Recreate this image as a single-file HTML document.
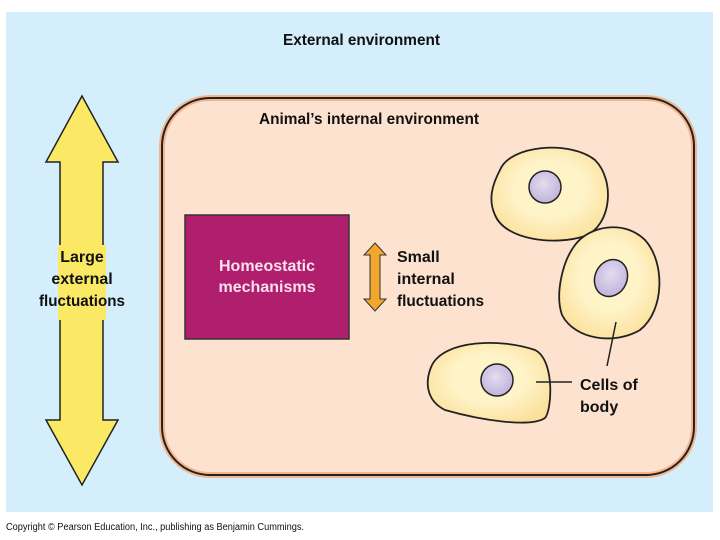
<!DOCTYPE html>
<html><head><style>
body{margin:0;background:#fff;width:720px;height:540px;overflow:hidden}
svg{display:block}
text{font-family:"Liberation Sans",sans-serif;font-weight:bold}
</style></head><body>
<svg width="720" height="540" viewBox="0 0 720 540">
<defs>
<radialGradient id="cg" cx="50%" cy="45%" r="60%"><stop offset="0.5" stop-color="#fff3c8"/><stop offset="1" stop-color="#fbe09a"/></radialGradient>
<radialGradient id="ng" cx="45%" cy="40%" r="60%"><stop offset="0" stop-color="#e4dcf0"/><stop offset="1" stop-color="#c0b4dc"/></radialGradient>
</defs>
<rect x="6" y="12" width="707" height="500" fill="#d4eefc"/>
<rect x="162" y="98" width="532" height="377" rx="48" fill="#fde2cf" stroke="#f5b58e" stroke-width="6"/>
<rect x="162" y="98" width="532" height="377" rx="48" fill="none" stroke="#222" stroke-width="2"/>
<text x="283" y="45" font-size="16" textLength="157" lengthAdjust="spacingAndGlyphs" fill="#111">External environment</text>
<text x="259" y="124" font-size="16" textLength="220" lengthAdjust="spacingAndGlyphs" fill="#111">Animal’s internal environment</text>
<polygon points="82,96 118,162 103,162 103,420 118,420 82,485 46,420 60,420 60,162 46,162" fill="#fbe966" stroke="#222" stroke-width="1.5"/>
<rect x="58" y="245" width="48" height="75" fill="#fbe966"/>
<text font-size="16" text-anchor="middle" fill="#111"><tspan x="82" y="262">Large</tspan><tspan x="82" y="284">external</tspan><tspan x="82" y="306" textLength="86" lengthAdjust="spacingAndGlyphs">fluctuations</tspan></text>
<rect x="185" y="215" width="164" height="124" fill="#b01e6e" stroke="#333" stroke-width="1.5"/>
<text font-size="16" text-anchor="middle" fill="#fbe0ee"><tspan x="267" y="271">Homeostatic</tspan><tspan x="267" y="292">mechanisms</tspan></text>
<polygon points="375,243 386,255 380,255 380,299 386,299 375,311 364,299 370,299 370,255 364,255" fill="#f3a62c" stroke="#333" stroke-width="1"/>
<text font-size="16" fill="#111"><tspan x="397" y="262">Small</tspan><tspan x="397" y="284">internal</tspan><tspan x="397" y="306" textLength="87" lengthAdjust="spacingAndGlyphs">fluctuations</tspan></text>
<path d="M500,170 C510,145 570,140 595,160 C615,180 612,225 585,236 C555,246 505,240 495,215 C488,200 492,185 500,170 Z" fill="url(#cg)" stroke="#222" stroke-width="1.8"/>
<circle cx="545" cy="187" r="16" fill="url(#ng)" stroke="#222" stroke-width="1.5"/>
<path d="M575,245 C590,225 625,220 645,240 C665,262 665,310 640,330 C615,345 575,340 562,315 C555,295 562,262 575,245 Z" fill="url(#cg)" stroke="#222" stroke-width="1.8"/>
<ellipse cx="611" cy="278" rx="16" ry="19" transform="rotate(25 611 278)" fill="url(#ng)" stroke="#222" stroke-width="1.5"/>
<path d="M432,365 C445,340 500,338 535,350 C555,360 552,410 545,418 C530,428 480,420 445,410 C425,400 425,380 432,365 Z" fill="url(#cg)" stroke="#222" stroke-width="1.8"/>
<circle cx="497" cy="380" r="16" fill="url(#ng)" stroke="#222" stroke-width="1.5"/>
<line x1="536" y1="382" x2="572" y2="382" stroke="#222" stroke-width="1.5"/>
<line x1="616" y1="322" x2="607" y2="366" stroke="#222" stroke-width="1.5"/>
<text font-size="16" fill="#111"><tspan x="580" y="390">Cells of</tspan><tspan x="580" y="412">body</tspan></text>
<text x="6" y="530" font-size="10" textLength="298" lengthAdjust="spacingAndGlyphs" style="font-weight:normal" fill="#111">Copyright © Pearson Education, Inc., publishing as Benjamin Cummings.</text>
</svg>
</body></html>
